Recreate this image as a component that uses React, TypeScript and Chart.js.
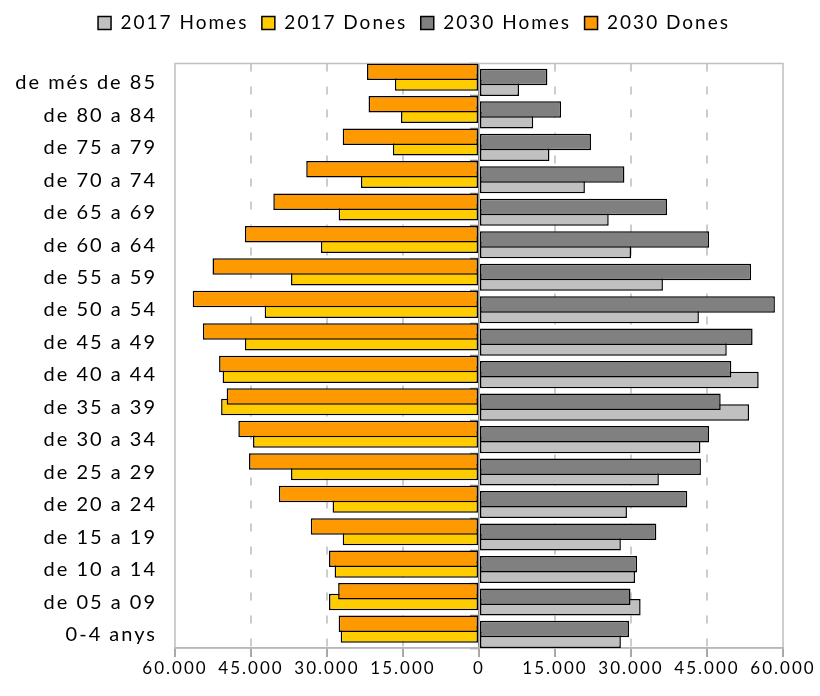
import React, { useEffect, useRef } from 'react';
import { Chart, registerables } from 'chart.js';

Chart.register(...registerables);

const categories = [
  'de més de 85', 'de 80 a 84', 'de 75 a 79', 'de 70 a 74', 'de 65 a 69', 'de 60 a 64',
  'de 55 a 59', 'de 50 a 54', 'de 45 a 49', 'de 40 a 44', 'de 35 a 39', 'de 30 a 34',
  'de 25 a 29', 'de 20 a 24', 'de 15 a 19', 'de 10 a 14', 'de 05 a 09', '0-4 anys',
];

const homes2017 = [7900, 10700, 13900, 20900, 25600, 30000, 36300, 43400, 48900, 55200, 53300, 43700, 35500, 29200, 28000, 30800, 31900, 28000];
const dones2017 = [16600, 15400, 17000, 23300, 27700, 31200, 37100, 42300, 46200, 50600, 50900, 44600, 37100, 28900, 26900, 28500, 29600, 27300];
const homes2030 = [13500, 16200, 22100, 28700, 37100, 45400, 53700, 58400, 54000, 49800, 47700, 45400, 43800, 41100, 35000, 31200, 29900, 29600];
const dones2030 = [22100, 21800, 26900, 34100, 40600, 46200, 52600, 56500, 54500, 51300, 49800, 47500, 45400, 39500, 33200, 29600, 27800, 27700];

const xMin = -60000;
const xMax = 60000;
const xStep = 15000;

const fmt = (v: number) => String(Math.abs(Math.round(v))).replace(/\B(?=(\d{3})+(?!\d))/g, '.');

const FONT = 'Lato';

const spacingPlugin = {
  id: 'spacing',
  beforeLayout(chart: any) { chart.ctx.letterSpacing = '2px'; },
  beforeDraw(chart: any) { chart.ctx.letterSpacing = '2px'; },
};

const framePlugin = {
  id: 'frame',
  beforeDatasetsDraw(chart: any) {
    const { ctx, chartArea: a } = chart;
    ctx.save();
    ctx.strokeStyle = '#bfbfbf';
    ctx.lineWidth = 1.5;
    ctx.strokeRect(a.left, a.top, a.right - a.left, a.bottom - a.top);
    ctx.restore();
  },
};

export default function App() {
  const ref = useRef<HTMLCanvasElement>(null);

  useEffect(() => {
    const isEdge = (v: any) => v === undefined || v === 0 || Math.abs(v) === 60000;
    const chart = new Chart(ref.current!, {
      type: 'bar',
      data: {
        labels: categories,
        datasets: [
          { label: '2017 Homes', data: homes2017, backgroundColor: '#c0c0c0', order: 3 },
          { label: '2017 Dones', data: dones2017.map((v) => -v), backgroundColor: '#ffcc00', order: 2 },
          { label: '2030 Homes', data: homes2030, backgroundColor: '#808080', order: 1 },
          { label: '2030 Dones', data: dones2030.map((v) => -v), backgroundColor: '#ff9900', order: 0 },
        ],
      },
      options: {
        indexAxis: 'y',
        animation: false,
        responsive: false,
        devicePixelRatio: 1,
        layout: { padding: { left: 8, right: 0, top: 0, bottom: 0 } },
        datasets: {
          bar: {
            categoryPercentage: 0.654,
            barPercentage: 3.11,
            borderColor: '#000000',
            borderWidth: 1.5,
            borderSkipped: false,
          },
        } as any,
        plugins: {
          tooltip: { enabled: false },
          legend: {
            position: 'top',
            labels: {
              sort: (a: any, b: any) => a.datasetIndex - b.datasetIndex,
              boxWidth: 13,
              boxHeight: 13,
              padding: 13.5,
              color: '#000000',
              font: { family: FONT, size: 19 },
            },
          },
        },
        scales: {
          x: {
            type: 'linear',
            min: xMin,
            max: xMax,
            ticks: {
              stepSize: xStep,
              autoSkip: false,
              maxRotation: 0,
              color: '#000000',
              padding: 1,
              font: { family: FONT, size: 17 },
              callback: (v: any) => fmt(Number(v)),
            },
            grid: {
              color: (c: any) => (isEdge(c.tick?.value) ? 'rgba(0,0,0,0)' : '#cccccc'),
              lineWidth: 2,
              drawTicks: true,
              tickLength: 9,
              tickColor: '#8c8c8c',
              tickWidth: 1.5,
            },
            border: {
              display: true,
              color: '#a0a0a0',
              width: 1.5,
              dash: (c: any) => (isEdge(c.tick?.value) ? [] : [8, 15]),
            },
            afterFit: (s: any) => { s.height = 48; },
          },
          xt: {
            axis: 'x',
            type: 'linear',
            position: 'top',
            min: xMin,
            max: xMax,
            display: true,
            ticks: { display: false },
            grid: { display: false, drawTicks: false },
            border: { display: false },
            afterFit: (s: any) => { s.height = 21; },
          },
          y: {
            type: 'category',
            grid: { display: false, drawTicks: false },
            border: { display: false },
            ticks: {
              autoSkip: false,
              color: '#000000',
              padding: 18,
              font: { family: FONT, size: 20, lineHeight: 0.3 },
              callback: (_v: any, i: number) => ['', categories[i]],
            },
            afterFit: (s: any) => { s.width = 167; },
          },
          yr: {
            axis: 'y',
            type: 'category',
            labels: categories,
            position: 'right',
            display: true,
            ticks: { display: false },
            grid: { display: false, drawTicks: false },
            border: { display: false },
            afterFit: (s: any) => { s.width = 37; },
          },
          y2: {
            axis: 'y',
            type: 'category',
            labels: categories,
            position: { x: 0 },
            offset: true,
            display: true,
            z: 1,
            ticks: { display: false },
            grid: {
              offset: true,
              drawOnChartArea: false,
              drawTicks: true,
              tickLength: 8,
              tickColor: '#868686',
              tickWidth: 1.5,
            },
            border: { display: true, color: '#868686', width: 1.5 },
          },
        } as any,
      },
      plugins: [spacingPlugin, framePlugin],
    } as any);
    return () => chart.destroy();
  }, []);

  return (
    <div style={{ position: 'absolute', left: 0, top: 0, width: 820, height: 696 }}>
      <canvas ref={ref} width={820} height={696} style={{ display: 'block', width: 820, height: 696 }} />
    </div>
  );
}
